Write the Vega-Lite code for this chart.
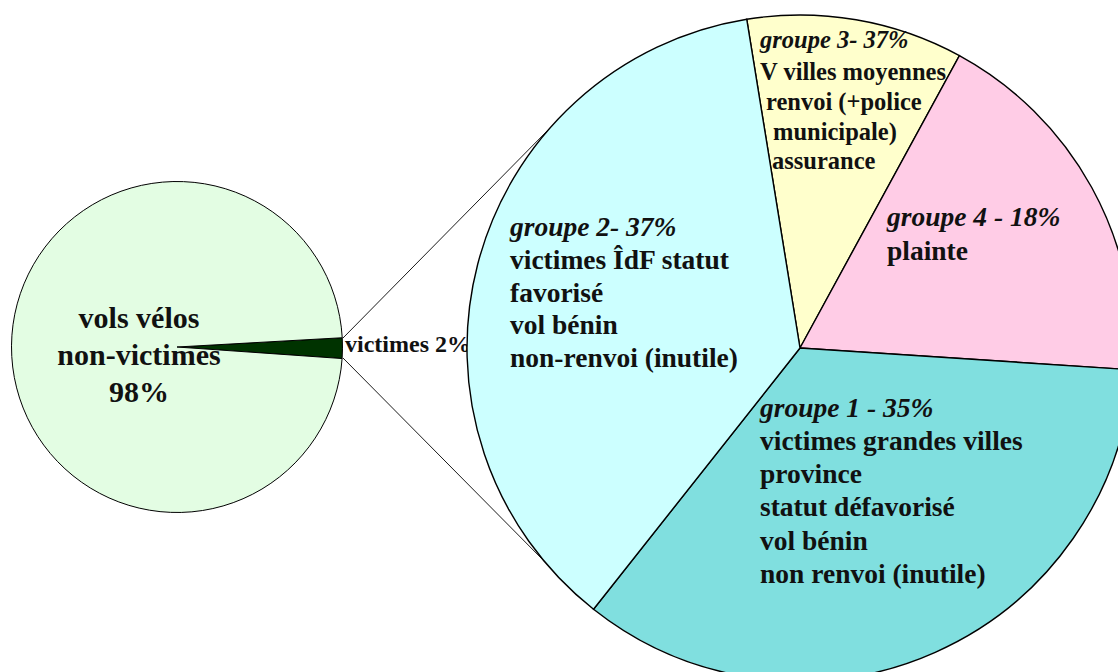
{
  "$schema": "https://vega.github.io/schema/vega-lite/v6.json",
  "width": 1118,
  "height": 672,
  "padding": 0,
  "autosize": {"type": "none"},
  "background": "white",
  "config": {"view": {"stroke": null}, "text": {"font": "Liberation Serif", "fontWeight": "bold", "color": "#111111"}},
  "datasets": {
    "slices": [
      {"pie": "small", "category": "victimes", "value": 2, "ord": 1, "title": "victimes 2%", "lines": []},
      {"pie": "small", "category": "vols vélos non-victimes", "value": 98, "ord": 2, "title": "", "lines": ["vols vélos", "non-victimes", "98%"]},
      {"pie": "big", "category": "groupe 3", "value": 10.5, "ord": 1, "title": "groupe 3- 37%", "lines": ["V villes moyennes", "renvoi (+police", "municipale)", "assurance"]},
      {"pie": "big", "category": "groupe 4", "value": 18.1, "ord": 2, "title": "groupe 4 - 18%", "lines": ["plainte"]},
      {"pie": "big", "category": "groupe 1", "value": 34.6, "ord": 3, "title": "groupe 1 - 35%", "lines": ["victimes grandes villes", "province", "statut défavorisé", "vol bénin", "non renvoi (inutile)"]},
      {"pie": "big", "category": "groupe 2", "value": 36.8, "ord": 4, "title": "groupe 2- 37%", "lines": ["victimes ÎdF statut", "favorisé", "vol bénin", "non-renvoi (inutile)"]}
    ]
  },
  "data": {"name": "slices"},
  "resolve": {"scale": {"theta": "independent"}},
  "layer": [
    {
      "transform": [{"filter": "datum.pie === 'small'"}],
      "mark": {"type": "arc", "outerRadius": 165.5, "stroke": "#000000", "strokeWidth": 1},
      "encoding": {
        "theta": {"field": "value", "type": "quantitative", "stack": true, "scale": {"range": [1.515, 7.798]}},
        "order": {"field": "ord", "type": "quantitative"},
        "color": {"field": "category", "type": "nominal", "legend": null,
          "scale": {"domain": ["victimes", "vols vélos non-victimes", "groupe 1", "groupe 2", "groupe 3", "groupe 4"],
                    "range": ["#003300", "#E3FDE3", "#80DFDF", "#CCFFFF", "#FFFFCC", "#FFCCE6"]}},
        "x": {"datum": 177, "type": "quantitative", "scale": {"domain": [0, 1118], "nice": false, "zero": false}, "axis": null},
        "y": {"datum": 347, "type": "quantitative", "scale": {"domain": [0, 672], "nice": false, "zero": false, "reverse": true}, "axis": null}
      }
    },
    {
      "transform": [{"filter": "datum.category === 'vols vélos non-victimes'"}],
      "mark": {"type": "text", "align": "center", "baseline": "alphabetic", "fontSize": 30, "lineHeight": 37},
      "encoding": {
        "text": {"field": "lines"},
        "x": {"datum": 139, "type": "quantitative"},
        "y": {"datum": 328, "type": "quantitative"}
      }
    },
    {
      "transform": [{"filter": "datum.category === 'victimes'"}],
      "mark": {"type": "text", "align": "left", "baseline": "alphabetic", "fontSize": 24},
      "encoding": {
        "text": {"field": "title"},
        "x": {"datum": 345, "type": "quantitative"},
        "y": {"datum": 352, "type": "quantitative"}
      }
    },
    {
      "data": {"values": [{}]},
      "mark": {"type": "rule", "color": "#000000", "strokeWidth": 0.9},
      "encoding": {
        "x": {"datum": 343, "type": "quantitative"},
        "y": {"datum": 338, "type": "quantitative"},
        "x2": {"datum": 549},
        "y2": {"datum": 129}
      }
    },
    {
      "data": {"values": [{}]},
      "mark": {"type": "rule", "color": "#000000", "strokeWidth": 0.9},
      "encoding": {
        "x": {"datum": 343, "type": "quantitative"},
        "y": {"datum": 358, "type": "quantitative"},
        "x2": {"datum": 548},
        "y2": {"datum": 565}
      }
    },
    {
      "transform": [{"filter": "datum.pie === 'big'"}],
      "mark": {"type": "arc", "outerRadius": 333, "stroke": "#000000", "strokeWidth": 1.4},
      "encoding": {
        "theta": {"field": "value", "type": "quantitative", "stack": true, "scale": {"range": [-0.1606, 6.1226]}},
        "order": {"field": "ord", "type": "quantitative"},
        "color": {"field": "category", "type": "nominal", "legend": null},
        "x": {"datum": 800, "type": "quantitative"},
        "y": {"datum": 348, "type": "quantitative"}
      }
    },
    {
      "transform": [{"filter": "datum.category === 'groupe 1'"}],
      "layer": [
        {"mark": {"type": "text", "align": "left", "baseline": "alphabetic", "fontSize": 27.5, "fontStyle": "italic"},
         "encoding": {"text": {"field": "title"}, "x": {"datum": 760, "type": "quantitative"}, "y": {"datum": 417, "type": "quantitative"}}},
        {"mark": {"type": "text", "align": "left", "baseline": "alphabetic", "fontSize": 27.5, "lineHeight": 33.2},
         "encoding": {"text": {"field": "lines"}, "x": {"datum": 760, "type": "quantitative"}, "y": {"datum": 450, "type": "quantitative"}}}
      ]
    },
    {
      "transform": [{"filter": "datum.category === 'groupe 2'"}],
      "layer": [
        {"mark": {"type": "text", "align": "left", "baseline": "alphabetic", "fontSize": 27.5, "fontStyle": "italic"},
         "encoding": {"text": {"field": "title"}, "x": {"datum": 510, "type": "quantitative"}, "y": {"datum": 236, "type": "quantitative"}}},
        {"mark": {"type": "text", "align": "left", "baseline": "alphabetic", "fontSize": 27.5, "lineHeight": 32.5},
         "encoding": {"text": {"field": "lines"}, "x": {"datum": 510, "type": "quantitative"}, "y": {"datum": 269, "type": "quantitative"}}}
      ]
    },
    {
      "transform": [{"filter": "datum.category === 'groupe 3'"}],
      "layer": [
        {"mark": {"type": "text", "align": "left", "baseline": "alphabetic", "fontSize": 24.5, "fontStyle": "italic"},
         "encoding": {"text": {"field": "title"}, "x": {"datum": 760, "type": "quantitative"}, "y": {"datum": 48, "type": "quantitative"}}},
        {"mark": {"type": "text", "align": "left", "baseline": "alphabetic", "fontSize": 24.5},
         "encoding": {"text": {"field": "lines[0]"}, "x": {"datum": 760, "type": "quantitative"}, "y": {"datum": 80, "type": "quantitative"}}},
        {"mark": {"type": "text", "align": "left", "baseline": "alphabetic", "fontSize": 24.5},
         "encoding": {"text": {"field": "lines[1]"}, "x": {"datum": 766, "type": "quantitative"}, "y": {"datum": 110, "type": "quantitative"}}},
        {"mark": {"type": "text", "align": "left", "baseline": "alphabetic", "fontSize": 24.5},
         "encoding": {"text": {"field": "lines[2]"}, "x": {"datum": 773, "type": "quantitative"}, "y": {"datum": 140, "type": "quantitative"}}},
        {"mark": {"type": "text", "align": "left", "baseline": "alphabetic", "fontSize": 24.5},
         "encoding": {"text": {"field": "lines[3]"}, "x": {"datum": 772, "type": "quantitative"}, "y": {"datum": 169, "type": "quantitative"}}}
      ]
    },
    {
      "transform": [{"filter": "datum.category === 'groupe 4'"}],
      "layer": [
        {"mark": {"type": "text", "align": "left", "baseline": "alphabetic", "fontSize": 27.5, "fontStyle": "italic"},
         "encoding": {"text": {"field": "title"}, "x": {"datum": 887, "type": "quantitative"}, "y": {"datum": 226, "type": "quantitative"}}},
        {"mark": {"type": "text", "align": "left", "baseline": "alphabetic", "fontSize": 27.5, "lineHeight": 33},
         "encoding": {"text": {"field": "lines"}, "x": {"datum": 887, "type": "quantitative"}, "y": {"datum": 260, "type": "quantitative"}}}
      ]
    }
  ]
}
